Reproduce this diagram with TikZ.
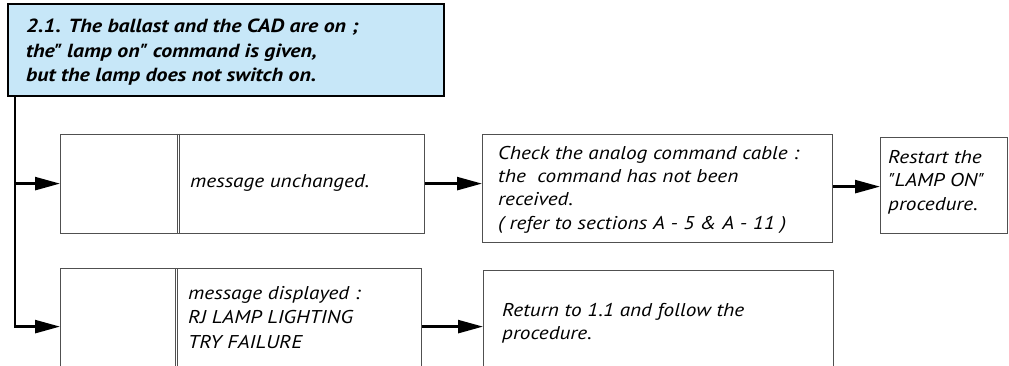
\documentclass[tikz,border=0pt]{standalone}
\usepackage{fontspec}
\setmainfont{PT Sans}[FakeStretch=1.15,Ligatures=TeXOff]
\usetikzlibrary{arrows.meta}
\definecolor{titleblue}{RGB}{199,231,248}
\definecolor{boxgray}{RGB}{80,80,80}
\begin{document}
\begin{tikzpicture}[x=1pt,y=-1pt,
  box/.style={draw=boxgray,line width=1.2pt,rectangle,inner sep=0pt,anchor=north west},
  titlebox/.style={draw=black,line width=2pt,fill=titleblue,rectangle,inner sep=0pt,anchor=north west},
  txt/.style={inner sep=0pt,anchor=west,align=left,font=\fontsize{18.5}{23.3}\selectfont\itshape},
  ttxt/.style={inner sep=0pt,anchor=west,align=left,font=\fontsize{19}{24.5}\selectfont\bfseries\itshape},
  arr/.style={line width=2.5pt,-{Triangle[length=25pt,width=13pt]}},
  divline/.style={draw=boxgray,line width=1pt}
]
\useasboundingbox (0,0) rectangle (1009,365);
% title
\node[titlebox,minimum width=436pt,minimum height=92pt] (title) at (7,3) {};
\node[ttxt] (tt) at (26,52.5) {2.1. The ballast and the CAD are on ;\\the" lamp on" command is given,\\but the lamp does not switch on.};
% boxes
\node[box,minimum width=364pt,minimum height=99pt] (b1) at (60,133.5) {};
\node[box,minimum width=361pt,minimum height=116pt] (b2) at (60,268) {};
\node[box,minimum width=350pt,minimum height=108pt] (b3) at (482,134) {};
\node[box,minimum width=127pt,minimum height=96pt] (b4) at (880,137) {};
\node[box,minimum width=350pt,minimum height=112pt] (b5) at (483,270) {};
% dividers
\coordinate (d1) at ([xshift=117pt]b1.north west);
\draw[divline] (d1) -- (d1 |- b1.south);
\draw[divline] ([xshift=2.5pt]d1) -- ([xshift=2.5pt]d1 |- b1.south);
\coordinate (d2) at ([xshift=115pt]b2.north west);
\draw[divline] (d2) -- (d2 |- b2.south);
\draw[divline] ([xshift=2.5pt]d2) -- ([xshift=2.5pt]d2 |- b2.south);
% texts
\node[txt] (t1) at (190,183) {message unchanged.};
\node[txt] (t2) at (188,317.5) {message displayed :\\[1.2pt]RJ LAMP LIGHTING\\[1.2pt]TRY FAILURE};
\node[txt] (t3) at (498,189.5) {Check the analog command cable :\\the\ \ command has not been\\received.\\( refer to sections A - 5 \& A - 11 )};
\node[txt] (t4) at (888,182) {Restart the\\"LAMP ON"\\procedure.};
\node[txt] (t5) at (502,323) {Return to 1.1 and follow the\\procedure.};
% connectors
\coordinate (trunk) at ([xshift=8pt]title.south west);
\draw[arr] (trunk) |- (b1.west);
\draw[arr] (trunk) |- (b2.west);
\draw[arr] (b1.east) -- (b1.east -| b3.west);
\draw[arr] ([yshift=2pt]b3.east) -- ([yshift=2pt]b3.east -| b4.west);
\draw[arr] (b2.east) -- (b2.east -| b5.west);
\end{tikzpicture}
\end{document}
